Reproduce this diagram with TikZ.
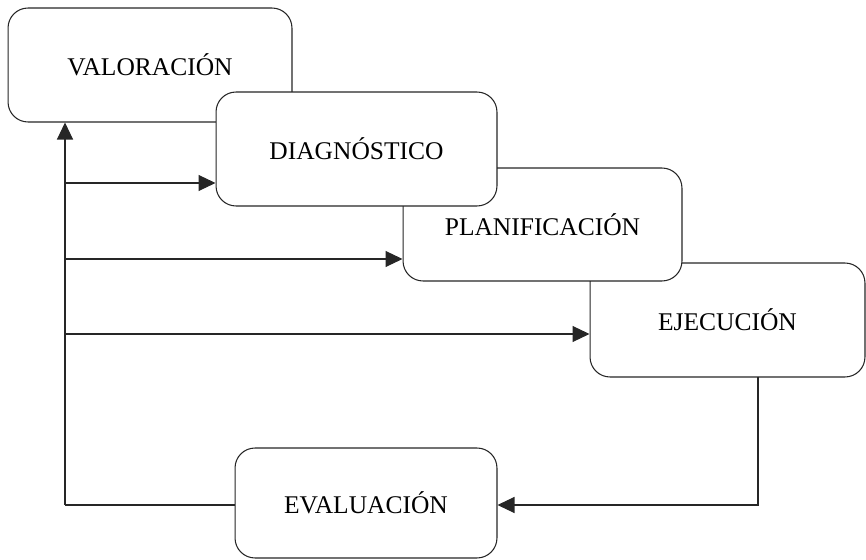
\documentclass[tikz,border=0pt]{standalone}
\usepackage{fontspec}
\setmainfont{Liberation Serif}
\usetikzlibrary{arrows.meta}
\begin{document}
\begin{tikzpicture}[x=0.02cm,y=-0.02cm,
    etapa/.style={draw=black!85,line width=0.6pt,fill=white,rounded corners=0.4cm,
      minimum width=5.6cm,minimum height=2.28cm,inner sep=0pt,font=\fontsize{14.5}{16}\selectfont},
    flecha/.style={draw=black!85,line width=0.6pt,-{Triangle[length=0.34cm,width=0.32cm]}},
    linea/.style={draw=black!85,line width=0.6pt}]
  \useasboundingbox (0,0) rectangle (866,560);
  % las etapas, de modo que cada una tape a la siguiente
  \node[etapa,minimum width=5.68cm] (val) at (150,65) {VALORACIÓN};
  \node[etapa,minimum width=5.5cm] (ejec) at (727.5,320) {EJECUCIÓN};
  \node[etapa,minimum width=5.58cm,minimum height=2.26cm] (plan) at (542.5,224.5) {PLANIFICACIÓN};
  \node[etapa,minimum width=5.62cm] (diag) at (356.5,149) {DIAGNÓSTICO};
  \node[etapa,minimum width=5.24cm,minimum height=2.2cm] (eval) at (366,503) {EVALUACIÓN};
  % tronco de retorno
  \coordinate (tronco) at (65,505);
  \coordinate (r1) at (65,183);
  \coordinate (r2) at (65,259);
  \coordinate (r3) at (65,334);
  \coordinate (baja) at (758,377);
  \draw[linea] (eval.west |- tronco) -- (tronco);
  \draw[flecha] (tronco) -- (tronco |- val.south);
  \draw[flecha] (r1) -- (r1 -| diag.west);
  \draw[flecha] (r2) -- (r2 -| plan.west);
  \draw[flecha] (r3) -- (r3 -| ejec.west);
  \draw[flecha] (baja) |- (eval.east |- tronco);
\end{tikzpicture}
\end{document}
